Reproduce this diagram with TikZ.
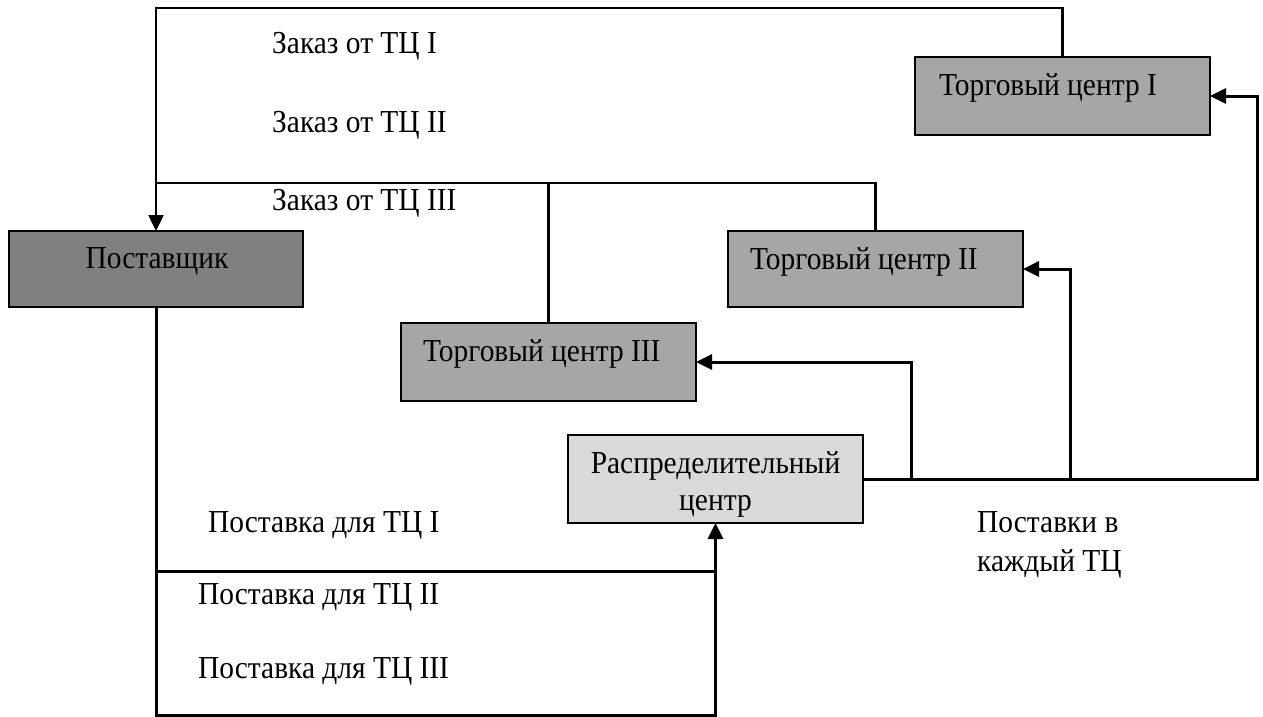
\documentclass[tikz,border=0pt]{standalone}
\usepackage{fontspec}
\setmainfont{Liberation Serif}[FakeStretch=0.92]
\usetikzlibrary{arrows.meta}
\definecolor{supfill}{HTML}{808080}
\definecolor{tcfill}{HTML}{A6A6A6}
\definecolor{rcfill}{HTML}{D9D9D9}
\begin{document}
\begin{tikzpicture}[x=1pt,y=-1pt,
  box/.style={draw=black, line width=2pt, anchor=north west, inner sep=0pt, outer sep=0pt},
  lbl/.style={anchor=base west, inner sep=0pt, font=\fontsize{32}{38}\selectfont},
  order/.style={line width=2.5pt},
  flow/.style={line width=3pt},
  tip/.style={-{Triangle[length=16pt,width=15pt]}}]
\useasboundingbox (0,0) rectangle (1263,717);

% boxes
\node[box, fill=supfill, minimum width=294pt, minimum height=76pt] (sup) at (9,231) {};
\node[box, fill=tcfill, minimum width=295pt, minimum height=78pt] (tc1) at (915,57) {};
\node[box, fill=tcfill, minimum width=295pt, minimum height=76pt] (tc2) at (728,231) {};
\node[box, fill=tcfill, minimum width=295pt, minimum height=78pt] (tc3) at (401,323) {};
\node[box, fill=rcfill, minimum width=295pt, minimum height=88pt] (rc) at (568,435) {};

% box captions
\node[lbl, anchor=base] (supT) at (157,268) {Поставщик};
\node[lbl] (tc1T) at (939,95) {Торговый центр I};
\node[lbl] (tc2T) at (750,269) {Торговый центр II};
\node[lbl] (tc3T) at (423,361) {Торговый центр III};
\node[lbl, anchor=base] (rcT1) at (715.5,473) {Распределительный};
\node[lbl, anchor=base] (rcT2) at (715.5,510) {центр};

% orders from the shopping centres to the supplier
\coordinate (j) at (sup.north |- 0,183);
\draw[order, tip] (tc1.north) -- ++(0,-49) -| (sup.north);
\draw[order] (tc2.north) |- (j);
\draw[order] (tc3.north) -- (tc3.north |- j);

% deliveries from the distribution centre
\coordinate (d1) at (1257,479);
\coordinate (d2) at (1070,479);
\coordinate (d3) at (911,479);
\draw[flow, tip] (rc.east) -- (d1) |- (tc1.east);
\draw[flow, tip] (d2) |- (tc2.east);
\draw[flow, tip] (d3) |- (tc3.east);

% supplies from the supplier to the distribution centre
\coordinate (s0) at (sup.south |- 0,715);
\coordinate (s1) at (sup.south |- 0,571);
\draw[flow, tip] (sup.south) -- (s0) -| (rc.south);
\draw[flow] (s1) -- (s1 -| rc.south);

% connector labels
\node[lbl] (o1) at (272,54) {Заказ от ТЦ I};
\node[lbl] (o2) at (272,132) {Заказ от ТЦ II};
\node[lbl] (o3) at (272,210) {Заказ от ТЦ III};
\node[lbl] (p1) at (208,532) {Поставка для ТЦ I};
\node[lbl] (p2) at (198,604) {Поставка для ТЦ II};
\node[lbl] (p3) at (198,678) {Поставка для ТЦ III};
\node[lbl] (e1) at (977,532) {Поставки в};
\node[lbl] (e2) at (977,571) {каждый ТЦ};
\end{tikzpicture}
\end{document}
